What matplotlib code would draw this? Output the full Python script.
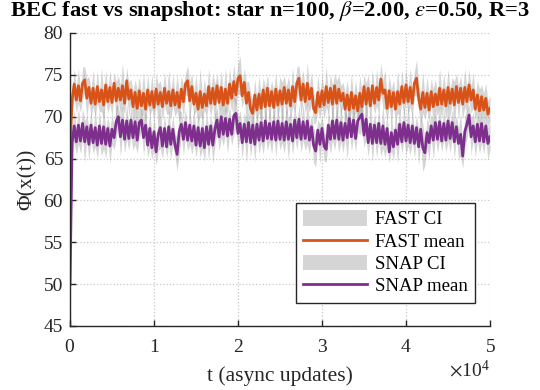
import numpy as np
import matplotlib
matplotlib.use('Agg')
import matplotlib.pyplot as plt

plt.rcParams['font.family'] = ['Liberation Serif', 'DejaVu Serif']
plt.rcParams['mathtext.fontset'] = 'stix'

# sampling of the async-update axis (one sample every 250 updates)
t_step = 250
n_samples = 201

# FAST mean
fast_mean = [
    66.0, 72.0, 73.9, 72.0, 73.7, 71.9, 74.0, 74.4, 72.2, 73.5,
    71.6, 73.4, 71.5, 73.6, 71.8, 73.2, 71.4, 73.8, 71.8, 73.5,
    71.7, 74.0, 71.9, 73.4, 72.0, 73.7, 71.6, 74.3, 72.1, 73.2,
    71.2, 72.9, 71.0, 73.1, 71.3, 72.8, 70.9, 73.2, 71.4, 73.0,
    71.1, 73.3, 71.5, 72.9, 71.2, 73.4, 71.6, 73.0, 71.3, 73.2,
    71.4, 72.9, 71.1, 73.3, 71.8, 73.9, 74.3, 71.9, 73.6, 71.5,
    72.8, 70.9, 73.0, 71.1, 72.7, 71.3, 73.6, 71.6, 73.4, 71.5,
    73.7, 71.7, 73.5, 71.4, 73.3, 71.6, 73.9, 72.2, 74.2, 72.6,
    74.6, 74.9, 72.5, 74.1, 71.6, 72.9, 70.9, 70.4, 72.6, 70.8,
    72.7, 71.0, 73.2, 71.2, 73.4, 71.3, 73.0, 71.1, 73.3, 71.4,
    73.1, 71.5, 73.5, 71.6, 73.2, 71.3, 73.6, 71.8, 74.0, 74.6,
    72.0, 73.9, 71.8, 74.0, 72.1, 73.4, 71.0, 70.5, 72.9, 71.2,
    73.1, 71.4, 73.6, 71.7, 73.4, 71.5, 73.7, 71.6, 73.3, 71.9,
    72.8, 70.9, 72.6, 70.8, 72.9, 71.0, 72.5, 70.7, 72.8, 71.2,
    73.6, 71.5, 73.4, 71.3, 73.7, 71.6, 73.5, 72.0, 74.5, 72.8,
    73.2, 71.0, 73.1, 71.2, 72.9, 70.9, 73.0, 71.5, 73.6, 71.7,
    73.8, 71.8, 73.5, 71.6, 74.0, 74.6, 72.3, 70.9, 72.9, 71.1,
    72.8, 70.8, 73.0, 71.2, 72.7, 71.4, 73.4, 71.5, 73.2, 71.3,
    73.5, 71.6, 73.3, 71.4, 73.6, 71.7, 73.4, 71.5, 73.5, 71.8,
    73.8, 72.0, 73.2, 70.9, 72.6, 70.7, 72.4, 70.8, 72.2, 70.3,
    71.0,
]

# SNAP mean
snap_mean = [
    50.0, 66.9, 68.9, 67.0, 69.0, 67.1, 69.2, 67.0, 68.8, 66.7,
    69.0, 66.9, 68.7, 66.6, 68.9, 66.8, 68.8, 66.7, 68.6, 66.5,
    68.5, 67.5, 69.4, 70.0, 67.6, 69.6, 67.3, 69.5, 67.4, 69.6,
    67.5, 69.4, 67.2, 69.3, 69.6, 67.5, 69.0, 66.6, 68.6, 66.3,
    68.2, 65.8, 67.9, 68.7, 66.5, 68.6, 66.4, 68.8, 66.7, 68.5,
    66.6, 65.5, 68.2, 69.1, 67.3, 69.3, 67.2, 69.0, 67.1, 68.9,
    66.6, 68.7, 66.5, 68.6, 66.3, 68.8, 66.7, 68.9, 66.6, 68.5,
    69.6, 67.6, 70.0, 67.9, 69.8, 67.7, 69.7, 67.9, 70.1, 70.4,
    68.0, 69.2, 66.9, 69.1, 67.0, 69.3, 66.9, 69.0, 66.7, 69.1,
    67.2, 69.3, 67.1, 69.5, 67.4, 69.2, 67.3, 69.4, 67.2, 69.5,
    67.3, 69.2, 67.2, 69.4, 67.3, 69.1, 67.1, 69.6, 67.5, 69.7,
    67.3, 69.4, 67.4, 69.5, 67.2, 68.8, 66.6, 65.9, 68.4, 66.7,
    68.6, 66.5, 66.1, 69.0, 67.3, 69.5, 67.4, 69.6, 67.3, 69.3,
    67.2, 69.2, 67.5, 69.8, 67.6, 69.6, 67.4, 69.5, 69.9, 70.3,
    67.8, 69.7, 66.9, 69.1, 66.8, 69.0, 66.9, 69.2, 66.8, 68.9,
    66.7, 68.6, 65.8, 68.1, 66.4, 68.4, 66.7, 69.1, 67.0, 69.3,
    67.1, 69.0, 66.9, 68.9, 66.8, 68.7, 66.4, 68.5, 66.3, 65.7,
    68.1, 66.9, 68.9, 67.2, 69.3, 67.3, 69.4, 67.1, 69.2, 67.2,
    69.5, 67.4, 69.3, 67.0, 68.8, 66.8, 67.9, 65.3, 68.2, 69.1,
    70.2, 67.6, 68.9, 67.0, 69.1, 67.1, 69.2, 67.0, 68.9, 66.8,
    67.6,
]

# CI half widths
fast_ci = [
    0.0, 1.2, 1.8, 1.5, 2.1, 1.4, 1.9, 1.6, 2.4, 1.3,
    1.7, 2.2, 1.5, 1.9, 1.2, 2.6, 1.6, 1.8, 1.4, 2.0,
    1.7, 1.3, 2.3, 1.5, 1.8, 2.7, 1.4, 1.6, 2.0, 1.3,
    1.9, 1.5, 2.2, 1.7, 1.4, 2.5, 1.6, 1.9, 1.3, 2.1,
    1.5, 1.8, 2.4, 1.4, 1.7, 2.0, 1.3, 2.6, 1.6, 1.9,
    1.4, 2.2, 1.7, 1.5, 2.0, 1.3, 1.8, 2.3, 1.6, 1.4,
    2.1, 1.7, 2.8, 1.5, 1.9, 1.3, 2.2, 1.6, 1.8, 2.4,
    1.4, 1.7, 2.0, 1.5, 2.6, 1.3, 1.9, 1.6, 2.1, 1.4,
    1.8, 2.3, 1.5, 1.7, 2.5, 1.4, 2.0, 1.6, 1.9, 1.3,
    2.2, 1.7, 1.5, 2.4, 1.6, 1.8, 1.3, 2.1, 1.9, 1.5,
    1.7, 2.6, 1.4, 2.0, 1.6, 1.8, 2.3, 1.3, 1.9, 1.5,
    2.2, 1.7, 1.4, 2.5, 1.6, 2.0, 1.8, 1.3, 2.1, 1.5,
    1.9, 1.6, 2.4, 1.4, 1.7, 2.2, 1.5, 2.7, 1.6, 1.8,
    1.3, 2.0, 1.7, 1.5, 2.3, 1.4, 1.9, 1.6, 2.1, 1.8,
    1.4, 2.5, 1.6, 1.7, 2.0, 1.3, 2.2, 1.5, 1.9, 1.6,
    2.4, 1.4, 1.8, 2.1, 1.5, 1.7, 2.6, 1.3, 2.0, 1.6,
    1.9, 1.5, 2.3, 1.7, 1.4, 2.2, 1.6, 1.8, 2.5, 1.4,
    2.0, 1.7, 1.5, 2.1, 1.8, 1.3, 2.4, 1.6, 1.9, 1.5,
    2.2, 1.7, 1.4, 2.8, 1.6, 2.0, 1.5, 1.8, 2.3, 1.4,
    1.9, 1.6, 2.1, 1.5, 1.7, 2.6, 1.4, 2.0, 1.8, 1.5,
    1.6,
]

snap_ci = [
    0.0, 1.4, 1.9, 1.6, 2.2, 1.5, 1.8, 2.5, 1.4, 2.0,
    1.7, 1.3, 2.3, 1.6, 1.9, 1.5, 2.6, 1.7, 1.4, 2.1,
    1.8, 1.5, 2.0, 1.3, 2.4, 1.7, 1.6, 2.2, 1.4, 1.9,
    1.5, 2.7, 1.6, 1.8, 1.3, 2.1, 1.7, 1.5, 2.3, 1.4,
    2.0, 1.6, 1.9, 2.5, 1.5, 1.7, 1.3, 2.2, 1.8, 1.6,
    1.4, 2.0, 2.6, 1.5, 1.9, 1.7, 1.3, 2.3, 1.6, 2.1,
    1.5, 1.8, 1.4, 2.4, 1.7, 1.6, 2.0, 1.3, 2.2, 1.9,
    1.5, 1.7, 2.5, 1.4, 1.8, 2.1, 1.6, 1.3, 2.3, 1.7,
    1.9, 1.5, 2.0, 1.4, 2.6, 1.6, 1.8, 1.5, 2.2, 1.3,
    1.7, 2.4, 1.6, 1.9, 1.4, 2.1, 1.8, 1.5, 2.0, 1.7,
    1.3, 2.3, 1.6, 1.9, 2.5, 1.4, 1.7, 2.0, 1.5, 1.8,
    1.6, 2.2, 1.4, 2.8, 1.7, 1.5, 2.1, 1.9, 1.3, 2.4,
    1.6, 1.8, 1.5, 2.0, 1.7, 2.3, 1.4, 1.9, 1.6, 2.2,
    1.5, 1.8, 2.6, 1.4, 1.7, 2.0, 1.6, 1.3, 2.1, 1.9,
    1.5, 2.4, 1.7, 1.6, 2.2, 1.4, 1.8, 2.0, 1.5, 2.7,
    1.6, 1.9, 1.3, 2.1, 1.7, 1.5, 2.3, 1.8, 1.4, 2.0,
    1.6, 2.5, 1.5, 1.9, 1.7, 1.4, 2.2, 1.6, 2.9, 1.5,
    1.8, 2.0, 1.4, 2.3, 1.7, 1.6, 2.1, 1.3, 1.9, 1.5,
    2.4, 1.7, 1.6, 2.0, 1.4, 1.8, 2.6, 1.5, 1.9, 1.7,
    1.3, 2.2, 1.6, 1.8, 2.0, 1.5, 2.3, 1.4, 1.7, 1.9,
    1.6,
]

t = np.arange(n_samples) * t_step
fast_mean = np.array(fast_mean)
snap_mean = np.array(snap_mean)
fast_ci = np.array(fast_ci)
snap_ci = np.array(snap_ci)

ORANGE = '#D95319'
PURPLE = '#7E2F8E'
DARK = '#262626'

fig = plt.figure(figsize=(5.4, 3.9), dpi=100)
ax = fig.add_axes([70 / 540, 1 - 326 / 390, 420 / 540, 293 / 390])

ax.fill_between(t, fast_mean - fast_ci, fast_mean + fast_ci, color='0.5',
                alpha=0.33, linewidth=0, label='FAST CI')
ax.plot(t, fast_mean, color=ORANGE, lw=2.0, label='FAST mean')
ax.fill_between(t, snap_mean - snap_ci, snap_mean + snap_ci, color='0.5',
                alpha=0.33, linewidth=0, label='SNAP CI')
ax.plot(t, snap_mean, color=PURPLE, lw=2.0, label='SNAP mean')

ax.set_xlim(0, 50000)
ax.set_ylim(45, 80)
ax.set_yticks(range(45, 81, 5))
ax.set_xticks(range(0, 50001, 10000))
ax.ticklabel_format(style='sci', axis='x', scilimits=(4, 4), useMathText=True)
ax.xaxis.get_offset_text().set_fontsize(14)

ax.grid(True, linestyle=':', color='#c8c8c8', linewidth=0.9)
ax.set_axisbelow(True)
for side in ['top', 'right']:
    ax.spines[side].set_visible(False)
for side in ['left', 'bottom']:
    ax.spines[side].set_color(DARK)
    ax.spines[side].set_linewidth(1.0)
ax.tick_params(direction='in', length=4, width=1.0, color=DARK,
               labelsize=14, labelcolor=DARK)
ax.tick_params(axis='x', pad=9)
ax.tick_params(axis='y', pad=5)

ax.set_xlabel('t (async updates)', fontsize=15.5, color=DARK, labelpad=8)
ax.set_ylabel('Φ(x(t))', fontsize=15.5, color=DARK, labelpad=5)
# title centred on the figure, placed by hand just above the "80" label
ax.set_title(r'BEC fast vs snapshot: star n=100, $\beta$=2.00, $\epsilon$=0.50, R=3',
             fontsize=16.2, fontweight='bold', pad=0,
             x=(270 - 70) / 420, y=1.058)

leg = ax.legend(loc='lower right', bbox_to_anchor=(0.964, 0.0785),
                borderaxespad=0, fontsize=13.5, fancybox=False, framealpha=1,
                edgecolor=DARK, handlelength=3.4, handleheight=0.9,
                handletextpad=0.4, labelspacing=0.22, borderpad=0.4)
leg.get_frame().set_linewidth(1.0)
for line in leg.get_lines():
    line.set_linewidth(2.0)

fig.savefig('out.png', dpi=100)
